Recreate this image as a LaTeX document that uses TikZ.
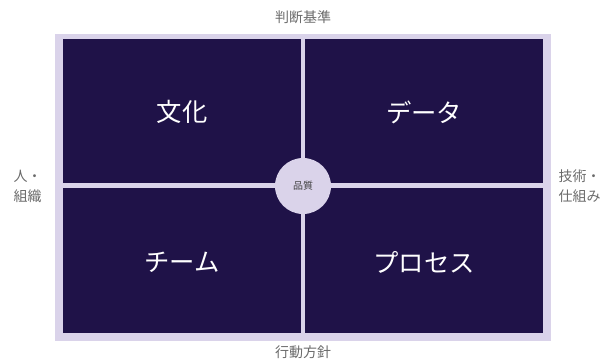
\documentclass[tikz,border=0pt]{standalone}
\usepackage{fontspec}
\setmainfont{Noto Sans CJK JP}
\definecolor{navy}{HTML}{1F1248}
\definecolor{lav}{HTML}{DAD3EA}
\definecolor{lbl}{HTML}{6A6A6A}
\begin{document}
\begin{tikzpicture}[x=0.75pt,y=-0.75pt,
  cell/.style={fill=navy,draw=none},
  celltext/.style={text=white,font=\fontsize{19}{21}\selectfont},
  side/.style={text=lbl,font=\fontsize{10.5}{15}\selectfont,align=left},
]
\useasboundingbox (0,0) rectangle (602,362);
\fill[lav] (55,34) rectangle (551,341);
\fill[cell] (63,39) rectangle (301,183);
\fill[cell] (305,39) rectangle (543,183);
\fill[cell] (63,188) rectangle (301,333);
\fill[cell] (305,188) rectangle (543,333);
\node[celltext] (culture) at (182,112) {文化};
\node[celltext] (data) at (424,112) {データ};
\node[celltext] (team) at (182,262) {チーム};
\node[celltext] (process) at (424,262) {プロセス};
\node[circle,fill=lav,minimum size=42pt,inner sep=0pt,text=black!75,font=\fontsize{7.5}{8}\selectfont] (quality) at (303,186) {品質};
\node[side] (top) at (303,17) {判断基準};
\node[side] (bottom) at (303,352) {行動方針};
\node[side,anchor=west] (left) at (9,186) {人・\\組織};
\node[side,anchor=west] (right) at (554,186) {技術・\\仕組み};
\end{tikzpicture}
\end{document}
